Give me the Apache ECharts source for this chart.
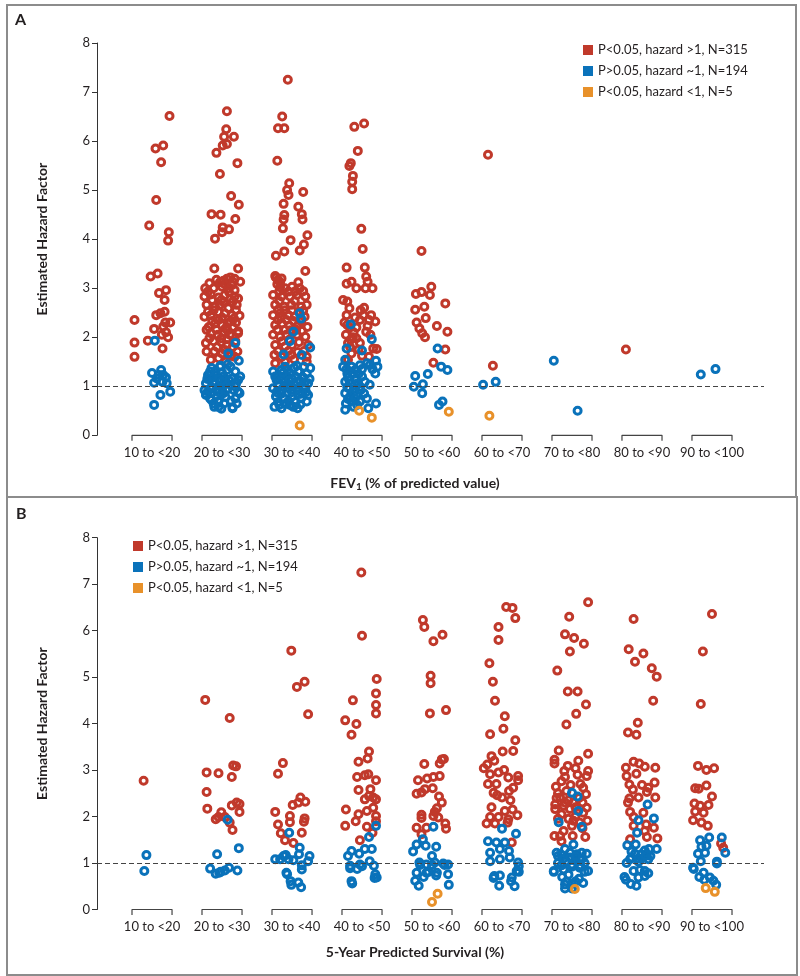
<!DOCTYPE html>
<html>
<head>
<meta charset="utf-8">
<script src="https://cdn.jsdelivr.net/npm/echarts@6.0.0/dist/echarts.min.js"></script>
<style>
html,body{margin:0;padding:0;background:#fff;}
#chart{width:800px;height:976px;}
</style>
</head>
<body>
<div id="chart"></div>
<script>
// Category labels
const catsA = ['10 to <20','20 to <30','30 to <40','40 to <50','50 to <60','60 to <70','70 to <80','80 to <90','90 to <100'];
const catsB = ['10 to <20','20 to <30','30 to <40','40 to <50','50 to <60','60 to <70','70 to <80','80 to <90','90 to <100'];
const yTicks = [0,1,2,3,4,5,6,7,8];
const seriesNames = ['P<0.05, hazard >1, N=315','P>0.05, hazard ~1, N=194','P<0.05, hazard <1, N=5'];

// Panel A (FEV1) — [category index + jitter, hazard]
const aRed = [
 [0.25,6.51],[0.05,5.85],[0.16,5.91],[0.13,5.57],[0.06,4.80],[-0.04,4.28],[0.24,4.14],[0.23,3.97],[-0.02,3.24],[0.08,3.30],[0.20,2.96],[0.10,2.90],[0.18,2.76],[0.18,2.52],[0.06,2.45],[0.12,2.49],[-0.25,2.35],[0.26,2.30],[0.19,2.30],[0.16,2.22],[0.03,2.17],[0.20,2.10],[0.14,2.05],[0.23,2.00],[-0.25,1.89],[-0.06,1.93],[0.15,1.77],[-0.25,1.60],
 [1.07,6.61],[1.06,6.24],[1.17,6.09],[1.03,6.09],[1.01,5.91],[1.07,5.94],[0.92,5.76],[1.22,5.55],[0.97,5.33],[1.13,4.88],[1.24,4.70],[0.85,4.51],[0.98,4.50],[1.19,4.41],[1.01,4.24],[1.10,4.20],[1.00,4.14],[0.90,4.01],[0.89,3.40],[1.23,3.40],
 [0.92,3.17],[1.07,3.19],[1.18,3.19],[1.26,3.13],[1.12,3.22],[1.02,3.15],
 [0.76,3.00],[0.88,3.00],[1.00,3.03],[1.09,3.00],[1.18,2.96],[1.04,3.08],[1.14,3.06],
 [0.75,2.83],[0.84,2.87],[0.95,2.81],[1.04,2.86],[1.18,2.83],[1.23,2.79],[1.10,2.92],[0.80,2.93],
 [0.78,2.66],[0.90,2.62],[0.97,2.66],[1.09,2.59],[1.21,2.66],[1.15,2.72],[1.02,2.72],
 [0.75,2.42],[0.84,2.45],[0.95,2.51],[1.04,2.49],[1.14,2.45],[1.25,2.44],[0.88,2.55],[1.20,2.55],
 [0.81,2.21],[0.90,2.28],[1.00,2.25],[1.08,2.28],[1.16,2.21],[0.78,2.15],[1.23,2.12],[1.05,2.18],[1.12,2.32],[0.95,2.35],
 [0.84,2.08],[0.94,2.05],[1.03,2.10],[1.11,2.05],[1.23,2.08],[0.99,1.98],[1.07,1.96],
 [0.77,1.88],[0.88,1.92],[0.99,1.90],[1.07,1.84],[1.15,1.80],
 [0.78,1.71],[0.89,1.71],[1.00,1.67],[1.22,1.71],[1.13,1.62],
 [0.84,1.54],[0.95,1.57],[1.05,1.50],
 [0.82,3.10],[0.97,3.12],[1.16,3.12],[0.86,2.76],[0.99,2.76],[1.12,2.78],[0.80,2.52],[1.00,2.40],[1.17,2.38],[0.86,2.33],[1.20,2.30],[0.92,2.15],[1.08,2.14],[1.19,1.92],[0.82,1.98],[0.93,1.80],[1.04,1.74],[1.10,1.68],[1.18,1.60],
 [1.94,7.25],[1.86,6.50],[1.80,6.26],[1.89,6.26],[1.79,5.60],[1.96,5.14],[1.93,5.00],[1.95,4.90],[2.16,4.96],[1.88,4.72],[2.09,4.66],[2.14,4.51],[1.89,4.49],[1.88,4.40],[2.15,4.40],[1.87,4.22],[2.22,4.08],[1.98,3.98],[2.17,3.89],[2.11,3.77],[1.89,3.75],[1.77,3.66],[2.19,3.35],
 [2.09,3.12],[1.77,3.22],[1.80,3.17],[1.85,3.20],[1.79,3.08],[1.83,3.02],
 [1.90,3.00],[2.00,3.03],[2.11,3.00],
 [1.73,2.86],[1.85,2.83],[1.97,2.83],[2.07,2.86],[2.19,2.83],
 [1.76,2.66],[1.89,2.62],[1.99,2.66],[2.13,2.62],[2.21,2.66],[2.04,2.74],[1.82,2.74],
 [1.73,2.45],[1.83,2.49],[1.95,2.45],[2.04,2.42],[2.18,2.42],[1.90,2.55],[2.10,2.52],
 [1.76,2.25],[1.86,2.28],[1.96,2.24],[2.09,2.25],[2.22,2.21],[2.02,2.33],[1.80,2.35],
 [1.73,2.05],[1.83,2.01],[1.92,2.05],[2.07,2.05],[2.19,2.01],[1.98,2.14],[2.14,2.13],
 [1.76,1.84],[1.90,1.81],[2.00,1.84],[2.23,1.84],[2.10,1.90],
 [1.75,1.64],[1.85,1.60],[1.99,1.64],[2.21,1.60],[2.08,1.70],
 [1.76,1.47],[2.21,1.50],[1.90,1.50],
 [1.82,2.94],[1.95,2.93],[2.05,2.94],[2.16,2.94],[1.80,2.56],[2.00,2.55],[2.16,2.54],[1.84,2.40],[1.92,2.35],[2.13,2.32],[1.79,2.15],[1.90,2.15],[2.06,2.15],[1.86,1.92],[1.96,1.95],[2.17,1.72],[1.80,1.72],[1.95,1.72],[2.03,1.55],[1.83,3.12],[1.76,3.25],
 [3.03,6.36],[2.89,6.29],[2.94,5.80],[2.84,5.55],[2.82,5.49],[2.87,5.29],[2.86,5.17],[2.86,5.02],[2.99,4.21],[3.01,3.80],[2.78,3.42],[3.04,3.42],[3.06,3.24],[2.78,3.09],[2.85,3.13],[2.92,3.00],[3.05,3.00],[3.15,3.00],[3.08,3.13],[2.73,2.76],[2.79,2.73],[2.82,2.59],[3.03,2.60],[3.02,2.45],[3.19,2.32],[2.97,2.35],[3.08,2.23],[3.06,2.11],[2.77,2.05],[2.92,1.98],[2.97,1.88],[2.80,1.88],[3.21,1.76],[3.16,1.77],[2.80,1.54],[2.85,1.67],
 [2.75,2.30],[2.83,2.20],[2.88,2.10],[3.12,2.05],[2.95,1.75],[3.10,1.60],[2.78,2.45],[2.90,2.40],[3.13,2.45],[2.84,1.95],[3.00,1.62],
 [2.79,2.25],[2.87,2.00],[2.92,2.20],[2.98,2.55],[3.10,2.35],[2.83,1.80],
 [3.85,3.76],[3.77,2.88],[3.85,2.92],[3.99,3.03],[3.97,2.86],[3.76,2.56],[3.89,2.62],[4.19,2.69],[3.91,2.39],[3.78,2.30],[4.07,2.23],[3.82,2.18],[3.86,2.08],[3.90,2.00],[4.22,2.11],[4.19,1.75],[4.02,1.48],
 [4.80,5.72],[4.87,1.42],
 [6.77,1.75]
];
const aBlue = [
 [0.04,1.93],[0.00,1.27],[0.13,1.33],[0.10,1.23],[0.20,1.18],[0.15,1.09],[0.03,1.07],[0.21,1.06],[0.26,0.89],[0.12,0.82],[0.03,0.62],[0.07,1.16],[0.16,1.23],
 [1.19,1.88],[1.09,1.67],[1.24,1.52],
 [0.85,1.37],[0.97,1.40],[1.07,1.33],[1.19,1.30],[0.80,1.23],[0.92,1.23],[1.02,1.20],[1.14,1.16],[1.23,1.13],[0.77,1.06],[0.88,1.09],[0.97,1.02],[1.07,1.06],[1.19,0.99],[0.80,0.89],[0.92,0.92],[1.02,0.86],[1.23,0.89],[0.83,0.75],[0.95,0.69],[0.89,0.58],[0.99,0.54],[1.15,0.55],[1.19,0.75],[1.21,0.65],[0.77,0.84],
 [0.75,0.92],[0.77,0.82],[0.85,0.72],[0.95,0.58],[1.15,0.57],[1.25,0.86],[1.26,1.20],
 [0.90,1.30],[1.00,1.28],[1.04,1.12],[0.95,1.15],[0.85,0.98],[0.93,0.80],[1.00,0.95],[1.05,0.78],[0.98,1.42],[1.03,0.65],[0.90,1.05],
 [0.79,1.15],[0.87,1.18],[0.99,1.10],[1.10,1.12],[1.20,1.05],[0.83,1.30],[1.12,1.40],[1.06,0.92],[1.13,0.70],[0.88,0.65],[1.08,1.45],[0.95,0.88],[1.17,0.92],
 [2.11,2.49],[2.13,2.38],[2.02,2.11],[1.97,1.92],[2.26,1.79],[1.88,1.65],[2.14,1.64],
 [1.73,1.30],[1.85,1.33],[1.97,1.26],[2.09,1.30],[2.21,1.26],[2.26,1.37],
 [1.78,1.13],[1.90,1.09],[2.00,1.16],[2.11,1.11],[2.23,1.06],
 [1.73,0.96],[1.84,0.92],[1.95,0.96],[2.07,0.92],[2.19,0.96],
 [1.77,0.79],[1.89,0.75],[2.00,0.79],[2.13,0.75],[2.23,0.82],
 [1.75,0.58],[1.85,0.55],[1.97,0.62],[2.08,0.55],[2.21,0.69],
 [1.80,1.22],[1.92,1.20],[2.05,1.20],[2.16,1.18],[1.80,1.02],[1.95,1.04],[2.05,1.02],[2.15,0.85],[1.85,0.85],[1.95,0.70],[2.05,0.68],[1.80,0.68],[2.25,1.15],[1.90,1.40],[2.03,1.38],
 [1.76,1.20],[1.86,1.15],[1.96,1.12],[2.07,1.08],[2.18,1.08],[1.78,0.88],[1.88,0.98],[2.00,0.88],[2.10,0.84],[2.20,0.88],[1.82,0.62],[1.90,0.64],[2.02,0.58],[2.12,0.63],[1.94,1.33],[2.17,1.40],[1.87,1.27],[2.07,1.42],
 [2.84,2.26],[3.14,1.96],[2.78,1.77],[3.00,1.73],[2.76,1.54],[3.20,1.52],[3.07,1.47],[3.19,1.26],[3.04,1.09],[3.20,0.65],[3.09,0.55],
 [2.73,1.40],[2.79,1.26],[2.90,1.33],[2.97,1.43],[3.11,1.43],[2.76,1.09],[2.85,1.06],[2.97,0.99],[3.11,1.03],[2.76,0.86],[2.83,0.79],[2.92,0.82],[3.07,0.75],[2.77,0.65],[2.88,0.58],[2.76,0.52],[2.97,0.69],
 [2.80,1.18],[2.90,1.15],[2.95,1.25],[2.82,0.95],[2.90,0.95],[3.00,1.20],[3.15,1.35],[3.22,1.40],[2.85,0.70],
 [2.78,1.35],[2.88,1.25],[2.82,1.12],[2.93,1.05],[2.79,0.98],[2.88,0.88],[2.98,0.92],[2.80,0.74],[2.90,0.75],[2.93,0.62],[3.03,0.85],[2.85,1.40],[3.00,1.35],
 [4.08,1.77],[4.13,1.40],[4.22,1.33],[3.94,1.25],[3.76,1.21],[3.87,1.04],[3.74,0.99],[3.86,0.86],[4.15,0.69],[4.10,0.62],
 [4.73,1.03],[4.91,1.09],
 [5.74,1.52],[6.08,0.50],
 [7.84,1.24],[8.05,1.35]
];
const aOrange = [[2.11,0.20],[2.96,0.50],[3.14,0.36],[4.24,0.48],[4.82,0.40]];

// Panel B (5-year predicted survival)
const bRed = [
 [-0.12,2.77],
 [0.76,4.51],[1.11,4.12],[0.78,2.95],[0.95,2.93],[1.16,3.10],[1.20,3.08],[1.14,2.85],[0.78,2.53],[0.79,2.17],[0.99,2.09],[0.91,1.94],[0.95,1.99],[1.14,2.24],[1.21,2.30],[1.25,2.27],[1.25,2.10],[1.11,1.87],[1.15,1.71],[1.04,1.99],
 [1.99,5.57],[2.07,4.79],[2.18,4.90],[2.23,4.20],[1.87,3.15],[1.80,2.92],[1.76,2.10],[2.01,2.25],[2.12,2.41],[2.19,2.32],[2.09,2.30],[1.97,2.01],[1.97,1.88],[2.18,1.96],[2.17,1.89],[1.80,1.83],[1.84,1.64],[2.14,1.65],[1.90,1.49],[2.02,1.43],
 [2.99,7.25],[3.00,5.89],[3.21,4.96],[3.20,4.65],[2.87,4.50],[3.20,4.40],[3.20,4.22],[2.76,4.07],[2.92,3.99],[2.85,3.76],[3.10,3.40],[3.08,3.25],[2.95,3.18],[2.93,2.85],[3.04,2.89],[3.09,2.91],[3.20,2.78],[2.95,2.57],[3.12,2.59],[3.10,2.44],[3.04,2.37],[3.16,2.41],[3.20,2.37],[2.77,2.15],[2.95,2.05],[3.07,2.12],[3.16,2.19],[3.20,2.01],[2.76,1.80],[2.91,1.90],[3.07,1.78],[2.97,1.49],[3.20,1.90],[3.15,1.65],
 [3.87,6.23],[3.89,6.08],[4.02,5.77],[4.15,5.91],[3.98,5.03],[3.98,4.87],[3.97,4.22],[4.20,4.29],[3.89,3.13],[4.14,3.23],[4.17,3.24],[4.11,3.14],[3.80,2.78],[3.93,2.82],[4.02,2.85],[4.11,2.87],[3.90,2.59],[4.01,2.61],[3.78,2.49],[3.85,2.52],[4.10,2.43],[4.14,2.30],[4.07,2.18],[4.04,2.10],[3.85,2.04],[4.02,2.01],[4.09,1.98],[3.85,1.97],[3.78,1.76],[3.92,1.76],[4.19,1.85],[4.20,1.74],[3.85,1.62],
 [5.06,6.51],[5.15,6.49],[5.19,6.27],[4.95,6.08],[4.95,5.80],[4.82,5.30],[4.87,4.90],[4.90,4.49],[5.04,4.16],[4.83,3.77],[5.02,3.89],[5.19,3.64],[4.85,3.30],[5.01,3.40],[5.16,3.41],[4.74,3.04],[4.79,3.12],[4.89,3.20],[4.83,2.91],[4.95,2.95],[5.03,3.00],[5.09,2.84],[5.23,2.87],[5.23,2.78],[5.16,2.62],[4.88,2.51],[4.93,2.46],[5.00,2.41],[5.12,2.35],[5.04,2.12],[5.22,2.03],[4.83,1.99],[4.95,1.99],[5.09,1.94],[4.78,1.85],[4.90,1.85],[5.08,1.87],[5.14,1.44],
 [4.80,2.70],[4.92,2.70],[5.10,2.55],[4.85,2.20],[5.15,2.15],
 [6.23,6.61],[5.96,6.30],[5.90,5.92],[6.03,5.84],[6.17,5.72],[5.97,5.55],[5.79,5.14],[5.94,4.69],[6.08,4.69],[6.20,4.41],[6.06,4.21],[5.92,3.98],[5.81,3.42],[6.23,3.35],[5.75,3.22],[5.75,3.14],[5.94,3.09],[6.09,3.20],[6.05,3.04],[5.89,2.98],[6.23,2.98],[6.21,2.87],[5.85,2.76],[5.77,2.64],[5.98,2.68],[6.16,2.62],[5.92,2.55],[6.20,2.48],[5.83,2.41],[5.76,2.26],[5.88,2.23],[6.02,2.30],[6.21,2.19],[5.76,2.16],[5.97,2.16],[6.16,2.08],[6.02,1.91],[6.11,1.87],[6.22,1.91],[6.00,1.80],[5.88,1.69],[5.75,1.58],[5.83,1.58],[6.01,1.58],[6.19,1.56],[5.85,1.47],
 [5.80,2.50],[6.10,2.40],[6.12,2.70],[5.95,2.35],[6.05,2.00],[5.80,1.95],[6.15,1.75],[5.90,2.85],[6.08,2.90],[5.78,2.40],
 [5.85,2.05],[6.05,2.20],[5.95,1.95],[6.15,2.30],[5.90,2.30],
 [6.88,6.25],[6.81,5.60],[7.02,5.51],[6.90,5.33],[7.14,5.19],[7.21,5.01],[7.16,4.49],[6.94,4.02],[6.80,3.81],[6.92,3.76],[6.88,3.18],[6.96,3.14],[7.04,3.07],[7.19,3.05],[6.77,3.05],[6.78,2.87],[6.92,2.92],[6.82,2.69],[7.00,2.68],[7.09,2.62],[7.18,2.73],[6.87,2.58],[7.07,2.53],[6.82,2.39],[6.95,2.41],[7.19,2.41],[6.80,2.30],[6.83,2.10],[7.02,2.08],[6.88,1.99],[7.06,1.83],[7.17,1.76],[6.88,1.80],[7.04,1.69],[6.83,1.51],[7.07,1.56],[7.22,1.53],
 [8.00,6.36],[7.87,5.55],[7.84,4.42],[7.80,3.09],[7.92,3.00],[8.03,3.04],[7.76,2.61],[7.81,2.60],[7.92,2.67],[8.00,2.43],[7.75,2.28],[7.83,2.23],[7.95,2.25],[7.76,2.11],[7.88,2.08],[7.73,1.92],[7.85,1.87],[7.94,1.80],[8.13,1.42],[8.16,1.33]
];
const bBlue = [
 [-0.08,1.17],[-0.11,0.83],
 [1.08,1.93],[1.24,1.32],[0.93,1.19],[0.83,0.88],[0.91,0.77],[0.98,0.81],[1.04,0.84],[1.10,0.90],[1.22,0.84],[0.96,0.79],
 [1.96,1.65],[2.11,1.33],[1.88,1.15],[1.91,1.17],[1.95,1.08],[2.02,1.06],[2.10,1.19],[2.25,1.15],[2.23,1.04],[1.83,1.08],[2.14,0.95],[1.92,0.79],[1.98,0.61],[2.09,0.58],[1.76,1.08],[1.93,0.76],[1.99,0.53],[2.13,0.48],[2.14,0.86],
 [3.20,1.80],[3.10,1.56],[2.85,1.26],[2.80,1.15],[2.96,1.20],[3.04,1.30],[3.14,1.30],[2.83,0.94],[2.97,0.97],[3.11,1.04],[3.17,0.94],[3.19,0.76],[3.21,0.69],[2.93,0.87],[2.85,0.61],[2.86,0.56],[3.18,0.68],[2.83,0.89],[3.00,0.93],
 [4.02,1.78],[3.78,1.40],[3.87,1.51],[3.91,1.37],[4.06,1.35],[3.73,1.25],[4.00,1.15],[3.82,1.01],[3.92,0.97],[4.04,1.01],[4.16,0.99],[4.23,0.97],[3.78,0.79],[3.92,0.79],[4.07,0.79],[4.23,0.76],[3.76,0.62],[3.81,0.51],[3.88,0.70],[3.95,0.81],[4.06,0.73],[4.24,0.53],[4.18,0.96],[4.00,0.96],[3.83,0.96],
 [5.00,1.74],[5.20,1.63],[4.80,1.47],[4.92,1.44],[5.04,1.44],[4.83,1.22],[4.97,1.30],[5.10,1.26],[4.83,1.04],[4.97,1.08],[5.11,1.12],[5.23,1.01],[5.21,0.83],[4.89,0.72],[4.97,0.73],[5.14,0.69],[4.88,0.68],[4.96,0.51],[5.13,0.61],[5.18,0.50],[5.24,0.93],[5.24,0.81],
 [6.00,2.51],[6.08,2.43],[6.09,2.12],[5.81,1.88],[6.14,1.78],[6.02,1.40],[5.78,1.22],[5.85,1.17],[5.97,1.22],[6.07,1.19],[6.14,1.22],[6.21,1.20],[5.92,1.04],[6.11,1.08],[6.00,0.97],[5.74,0.83],[5.88,0.86],[6.11,0.90],[6.23,0.83],[5.74,0.81],[5.86,0.70],[5.90,0.54],[6.00,0.45],[6.10,0.66],[6.16,0.57],[6.18,0.81],
 [5.90,1.30],[6.05,1.10],[5.95,0.75],[6.05,0.60],[5.80,1.00],[6.18,1.00],
 [5.80,1.15],[5.88,1.10],[5.97,1.12],[6.05,1.15],[6.15,1.10],[5.85,0.95],[6.00,0.92],[6.12,0.95],[5.92,0.60],[6.00,0.55],[5.90,0.45],
 [7.08,2.26],[6.95,1.92],[7.17,1.96],[6.93,1.65],[6.79,1.38],[6.91,1.40],[7.04,1.27],[7.07,1.19],[7.21,1.30],[6.99,1.19],[6.83,1.08],[6.95,1.03],[7.09,1.08],[6.75,0.70],[6.88,0.83],[7.04,0.83],[6.95,0.69],[6.77,0.64],[6.84,0.55],[6.92,0.51],[7.04,0.72],[7.09,0.78],
 [6.90,1.20],[7.00,1.10],[7.12,1.15],[6.85,1.25],
 [6.85,1.12],[6.95,1.10],[7.05,1.15],[7.10,1.30],[6.78,1.00],[6.97,0.85],
 [7.83,1.49],[7.96,1.55],[8.14,1.55],[7.85,1.35],[7.92,1.37],[8.19,1.22],[7.80,1.20],[7.90,1.22],[7.84,1.04],[8.07,1.03],[7.73,0.90],[7.88,0.79],[7.97,0.69],[7.74,0.87],[7.82,0.70],[7.89,0.64],[8.02,0.62],[8.06,0.53],[8.07,0.99]
];
const bOrange = [[4.00,0.16],[4.08,0.34],[6.04,0.44],[7.91,0.46],[8.04,0.38]];

const RED = '#C0392B', BLUE = '#0A72BA', ORANGE = '#E8912A';
const FONT = 'Lato';
const TXT = '#231f20';

function ring(name, data, color, gi, extra) {
  return Object.assign({
    name: name, type: 'scatter', xAxisIndex: gi, yAxisIndex: gi,
    data: data, symbol: 'circle', symbolSize: 7,
    itemStyle: { color: 'rgba(0,0,0,0)', borderColor: color, borderWidth: 3, opacity: 1 },
    emphasis: { disabled: true }, silent: true, animation: false, clip: false
  }, extra || {});
}
function dashed() {
  return { silent: true, symbol: ['none','none'], label: { show: false },
    lineStyle: { type: [5,3], color: '#444', width: 1 }, data: [{ yAxis: 1 }], animation: false };
}
// Bracket under each category group (half-width and tick depth in axis units; style only)
function bracketMarks(cats, halfW, depth) {
  const segs = [];
  cats.forEach((c, i) => {
    segs.push([{ coord: [i - halfW, 0] }, { coord: [i + halfW, 0] }]);
    segs.push([{ coord: [i - halfW, 0] }, { coord: [i - halfW, -depth] }]);
    segs.push([{ coord: [i + halfW, 0] }, { coord: [i + halfW, -depth] }]);
  });
  return { silent: true, symbol: ['none','none'], label: { show: false }, animation: false,
    lineStyle: { type: 'solid', color: '#444', width: 1.2 }, data: segs };
}
function bracketSeries(cats, gi, halfW, depth) {
  const d = [];
  cats.forEach((c, i) => {
    d.push([i - halfW, -depth], [i - halfW, 0], [i + halfW, 0], [i + halfW, -depth], [i, '-']);
  });
  return { type: 'line', xAxisIndex: gi, yAxisIndex: gi, data: d, symbol: 'none', clip: false,
    lineStyle: { color: '#444', width: 1.2 } };
}
function xAx(cats, gi) {
  return { type: 'value', gridIndex: gi, min: -0.786, max: 8.743,
    axisLine: { show: false }, axisTick: { show: false }, splitLine: { show: false },
    axisLabel: { customValues: cats.map((c, i) => i), formatter: v => cats[Math.round(v)],
      fontFamily: FONT, fontSize: 13, color: TXT, margin: 11 } };
}
function yAx(gi) {
  return { type: 'value', gridIndex: gi, min: yTicks[0], max: yTicks[yTicks.length - 1], interval: 1,
    axisLine: { show: true, onZero: false, lineStyle: { color: '#333', width: 1 } },
    axisTick: { show: true, length: 5, lineStyle: { color: '#333' } },
    splitLine: { show: false },
    axisLabel: { fontFamily: FONT, fontSize: 13, color: TXT, margin: 7 },
    name: 'Estimated Hazard Factor', nameLocation: 'middle', nameGap: 48,
    nameTextStyle: { fontFamily: FONT, fontWeight: 'bold', fontSize: 14, color: TXT } };
}
function legend(left, top) {
  const cols = [RED, BLUE, ORANGE];
  return { left: left, top: top, orient: 'vertical', icon: 'rect', itemWidth: 10, itemHeight: 10,
    itemGap: 7, padding: 0, selectedMode: false,
    textStyle: { fontFamily: FONT, fontSize: 13, color: TXT, lineHeight: 14 },
    data: seriesNames.map((n, i) => ({ name: n, itemStyle: { color: cols[i], borderWidth: 0 } })) };
}

const chart = echarts.init(document.getElementById('chart'), null, { renderer: 'canvas' });
chart.setOption({
  animation: false,
  backgroundColor: '#fff',
  textStyle: { fontFamily: FONT },
  grid: [
    { left: 97, top: 43, width: 667, height: 392.3 },
    { left: 97, top: 537.7, width: 667, height: 371.8 }
  ],
  xAxis: [xAx(catsA, 0), xAx(catsB, 1)],
  yAxis: [yAx(0), yAx(1)],
  legend: [legend(583, 43), legend(133, 539)],
  graphic: [
    { type: 'rect', shape: { x: 7, y: 5, width: 789, height: 492 }, style: { fill: 'none', stroke: '#8c8c8c', lineWidth: 2 }, silent: true, z: 0 },
    { type: 'rect', shape: { x: 7, y: 497, width: 790, height: 478 }, style: { fill: 'none', stroke: '#8c8c8c', lineWidth: 2 }, silent: true, z: 0 },
    { type: 'text', left: 15, top: 12, style: { text: 'A', font: 'bold 16px Lato', fill: TXT } },
    { type: 'text', left: 16, top: 506, style: { text: 'B', font: 'bold 16px Lato', fill: TXT } },
    { type: 'text', x: 415, y: 483, style: { text: '{n|FEV}{s|1}{n| (% of predicted value)}', fill: TXT,
        textAlign: 'center', textVerticalAlign: 'middle',
        rich: {
          n: { fontSize: 14, fontWeight: 'bold', fontFamily: FONT, fill: TXT, lineHeight: 18, verticalAlign: 'middle' },
          s: { fontSize: 10, fontWeight: 'bold', fontFamily: FONT, fill: TXT, lineHeight: 10, verticalAlign: 'bottom' } } } },
    { type: 'text', x: 415, y: 952, style: { text: '5-Year Predicted Survival (%)', font: 'bold 14px Lato', fill: TXT,
        textAlign: 'center', textVerticalAlign: 'middle' } }
  ],
  series: [
    ring(seriesNames[0], aRed, RED, 0, { markLine: dashed() }),
    ring(seriesNames[1], aBlue, BLUE, 0),
    ring(seriesNames[2], aOrange, ORANGE, 0, { markLine: bracketMarks(catsA, 0.286, 0.11) }),
    bracketSeries(catsA, 0, 0.286, 0.11),
    ring(seriesNames[0], bRed, RED, 1, { markLine: dashed() }),
    ring(seriesNames[1], bBlue, BLUE, 1),
    ring(seriesNames[2], bOrange, ORANGE, 1, { markLine: bracketMarks(catsB, 0.286, 0.12) }),
    bracketSeries(catsB, 1, 0.286, 0.12)
  ]
});
</script>
</body>
</html>
